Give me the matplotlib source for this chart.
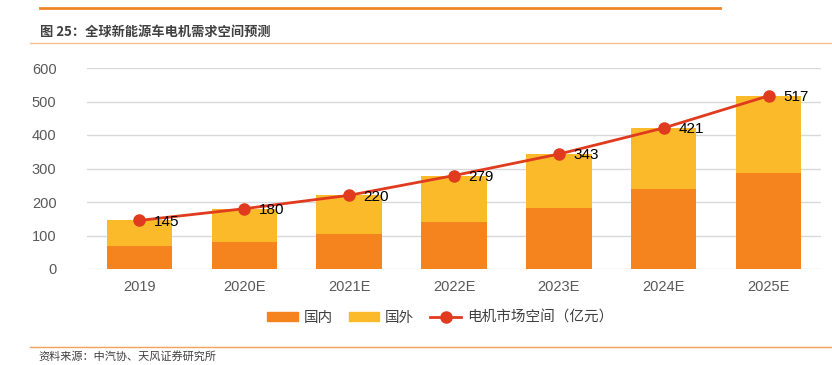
import numpy as np
import matplotlib.pyplot as plt
from matplotlib.lines import Line2D
from matplotlib.patches import Patch

plt.rcParams['font.family'] = ['Liberation Sans', 'Noto Sans CJK SC', 'DejaVu Sans']

years = ["2019", "2020E", "2021E", "2022E", "2023E", "2024E", "2025E"]
domestic = [70, 82, 105, 140, 183, 239, 288]
total = [145, 180, 220, 279, 343, 421, 517]
foreign = [t - d for t, d in zip(total, domestic)]

c_dom = "#F5841F"
c_for = "#FBBA2A"
c_line = "#E03B1E"
cjk = ['Noto Sans CJK SC', 'DejaVu Sans']

fig = plt.figure(figsize=(8.32, 3.65), dpi=100)
ax = fig.add_axes([87 / 832, 1 - 269 / 365, (821 - 87) / 832, (269 - 68) / 365])

x = np.arange(len(years))
ax.bar(x, domestic, width=0.625, color=c_dom, zorder=2)
ax.bar(x, foreign, width=0.625, bottom=domestic, color=c_for, zorder=2)
ax.plot(x, total, color=c_line, lw=2, marker="o", ms=8, zorder=3)
for xi, t in zip(x, total):
    ax.annotate(str(t), (xi, t), xytext=(10.5, -1), textcoords="offset points",
                ha="left", va="center", fontsize=11, color="black", zorder=4)

ax.set_xlim(-0.5, 6.5)
ax.set_ylim(0, 600)
ax.set_yticks(range(0, 601, 100))
ax.set_xticks(x)
ax.set_xticklabels(years)
ax.grid(axis="y", color="#D9D9D9", lw=1, zorder=0)
for s in ax.spines.values():
    s.set_visible(False)
ax.tick_params(length=0, labelsize=10.5, colors="#595959")
ax.tick_params(axis="x", pad=8)
ax.tick_params(axis="y", pad=22)

handles = [Patch(color=c_dom), Patch(color=c_for),
           Line2D([0], [0], color=c_line, lw=2, marker="o", ms=8)]
fig.legend(handles, ["国内", "国外", "电机市场空间（亿元）"], loc="center",
           bbox_to_anchor=(440 / 832, 1 - 318 / 365), ncol=3, frameon=False,
           prop={'family': cjk, 'size': 10.5}, labelcolor="#404040",
           handlelength=2.1, handleheight=0.55, columnspacing=1.1, handletextpad=0.4)

# header and footer decorations
fig.add_artist(Line2D([40 / 832, 720 / 832], [1 - 8 / 365] * 2, color="#F0862A", lw=2))
fig.add_artist(Line2D([30 / 832, 1], [1 - 43 / 365] * 2, color="#F8C08E", lw=1))
fig.add_artist(Line2D([30 / 832, 1], [1 - 347 / 365] * 2, color="#F5A25A", lw=1))
fig.text(40 / 832, 1 - 32 / 365, "图 25：全球新能源车电机需求空间预测", family=cjk,
         fontsize=9.5, fontweight="bold", color="#404040", va="center")
fig.text(38 / 832, 1 - 356 / 365, "资料来源：中汽协、天风证券研究所", family=cjk,
         fontsize=8, color="#404040", va="center")

fig.savefig("out.png", dpi=100)
